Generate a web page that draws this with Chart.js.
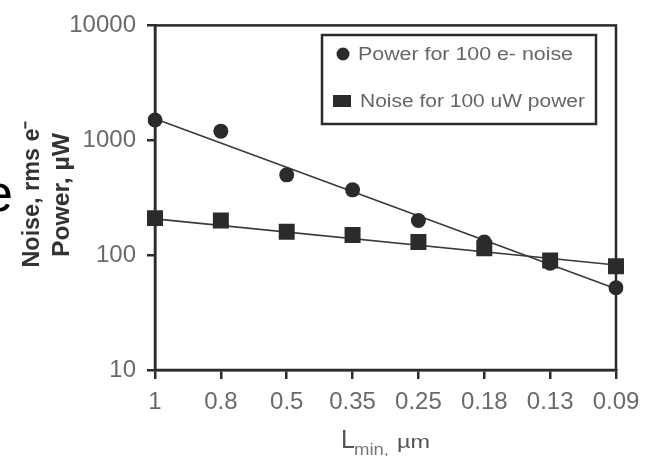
<!DOCTYPE html>
<html><head><meta charset="utf-8">
<script src="https://cdn.jsdelivr.net/npm/chart.js@4"></script>
<style>html,body{margin:0;padding:0;background:#fff;overflow:hidden}#wrap{width:653px;height:456px;position:relative}</style>
</head><body><div id="wrap"><canvas id="c" width="653" height="456"></canvas></div>
<script>
// ---- data ----
const categories = ['1', '0.8', '0.5', '0.35', '0.25', '0.18', '0.13', '0.09'];
const powerFor100e = [1500, 1200, 500, 370, 200, 130, 85, 52];
const noiseFor100uW = [210, 200, 160, 150, 130, 115, 90, 80];
const powerFit = [1540, null, null, null, null, null, null, 51];
const noiseFit = [207, null, null, null, null, null, null, 82];
const yTickValues = [10, 100, 1000, 10000];
const yTickLabels = ['10', '100', '1000', '10000'];
const seriesLabels = ['Power for 100 e- noise', 'Noise for 100 uW power'];
const yTitleLines = ['Noise, rms e\u207B', 'Power, \u00B5W'];
const xTitleParts = ['L', 'min,', '\u00B5m'];

const INK = '#2b2b2b';

function drawText(ctx, text, x, y, o) {
  ctx.save();
  ctx.translate(x, y);
  if (o.rotate) ctx.rotate(o.rotate);
  ctx.font = o.font;
  ctx.fillStyle = o.color || INK;
  ctx.textAlign = o.align || 'left';
  ctx.textBaseline = o.baseline || 'alphabetic';
  if (o.width) {
    const w = ctx.measureText(text).width;
    ctx.scale(o.width / w, 1);
  }
  ctx.fillText(text, 0, 0);
  ctx.restore();
}

const decor = {
  id: 'decor',
  afterDraw(chart) {
    const ctx = chart.ctx, a = chart.chartArea;
    ctx.save();
    // frame
    ctx.strokeStyle = INK; ctx.lineWidth = 2.5;
    ctx.strokeRect(a.left, a.top, a.right - a.left, a.bottom - a.top);
    // legend box
    ctx.strokeRect(322, 35, 274, 89);
    const ds = chart.data.datasets;
    ctx.fillStyle = ds[0].pointBackgroundColor;
    ctx.beginPath(); ctx.arc(343, 54, 6.5, 0, Math.PI * 2); ctx.fill();
    drawText(ctx, ds[0].label, 358, 55, {font: '18px "Liberation Sans", Arial', color: '#666', baseline: 'middle', width: 215});
    ctx.fillStyle = ds[1].pointBackgroundColor;
    ctx.fillRect(333, 95, 18, 12);
    drawText(ctx, ds[1].label, 360, 102, {font: '18px "Liberation Sans", Arial', color: '#666', baseline: 'middle', width: 225});
    // y title
    drawText(ctx, yTitleLines[0], 33, 194, {font: 'bold 23px "Liberation Sans", Arial', color: '#333', align: 'center', baseline: 'middle', rotate: -Math.PI / 2, width: 147});
    drawText(ctx, yTitleLines[1], 63, 195, {font: 'bold 23px "Liberation Sans", Arial', color: '#333', align: 'center', baseline: 'middle', rotate: -Math.PI / 2, width: 124});
    // x title
    drawText(ctx, xTitleParts[0], 341, 448, {font: '25px "Liberation Sans", Arial', color: '#555'});
    drawText(ctx, xTitleParts[1], 354, 455, {font: '16px "Liberation Sans", Arial', color: '#777', width: 35});
    drawText(ctx, xTitleParts[2], 397, 448, {font: '19px "Liberation Sans", Arial', color: '#555', width: 33});
    // clipped letter at the left edge
    drawText(ctx, 'e', -16, 211, {font: '52px "Liberation Sans", Arial', color: '#000'});
    ctx.restore();
  }
};

new Chart(document.getElementById('c'), {
  type: 'line',
  data: {
    labels: categories,
    datasets: [
      {label: seriesLabels[0], data: powerFor100e, showLine: false, pointStyle: 'circle', pointRadius: 7.5, pointHoverRadius: 7.5,
       pointBackgroundColor: INK, pointBorderColor: INK, pointBorderWidth: 0, order: 1},
      {label: seriesLabels[1], data: noiseFor100uW, showLine: false, pointStyle: 'rect', pointRadius: 11.3, pointHoverRadius: 11.3,
       pointBackgroundColor: INK, pointBorderColor: INK, pointBorderWidth: 0, order: 1},
      {label: 'fit1', data: powerFit, spanGaps: true, borderColor: '#3a3a3a', borderWidth: 1.6, pointRadius: 0, tension: 0, order: 2},
      {label: 'fit2', data: noiseFit, spanGaps: true, borderColor: '#3a3a3a', borderWidth: 1.6, pointRadius: 0, tension: 0, order: 2}
    ]
  },
  options: {
    responsive: false, animation: false, devicePixelRatio: 1,
    layout: {padding: {top: 19, right: 37, left: 0, bottom: 0}},
    plugins: {legend: {display: false}, tooltip: {enabled: false}},
    scales: {
      x: {
        type: 'category', offset: false,
        grid: {display: true, drawOnChartArea: false, drawTicks: true, tickLength: 9, color: INK, lineWidth: 2.5, offset: false},
        border: {display: true, color: INK, width: 2.5},
        ticks: {color: '#6a6a6a', padding: 9, maxRotation: 0, autoSkip: false,
                font: {family: '"Liberation Sans", Arial', size: 24}},
        afterFit(s) { s.height = 86; }
      },
      y: {
        type: 'logarithmic', min: 10, max: 10000,
        afterBuildTicks(s) { s.ticks = yTickValues.map(v => ({value: v})); },
        grid: {display: true, drawOnChartArea: false, drawTicks: true, tickLength: 8, color: INK, lineWidth: 2.5},
        border: {display: true, color: INK, width: 2.5},
        ticks: {color: '#6a6a6a', padding: 11,
                font: {family: '"Liberation Sans", Arial', size: 24},
                callback(v) { const i = yTickValues.indexOf(v); return i >= 0 ? yTickLabels[i] : ''; }},
        afterFit(s) { s.width = 155; }
      }
    }
  },
  plugins: [decor]
});
</script>
</body></html>
